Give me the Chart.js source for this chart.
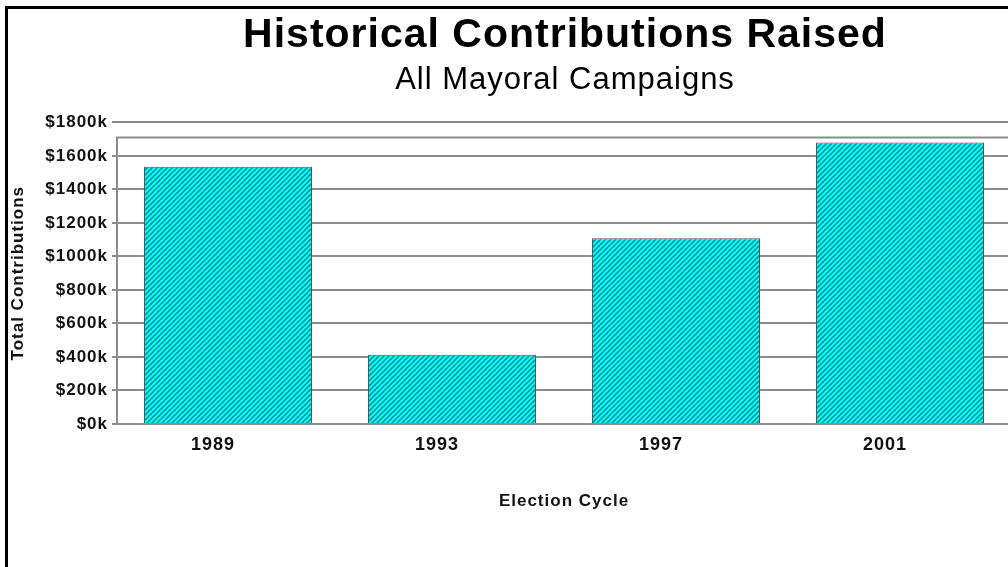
<!DOCTYPE html>
<html>
<head>
<meta charset="utf-8">
<script src="https://cdn.jsdelivr.net/npm/chart.js@4/dist/chart.umd.min.js"></script>
<style>
  html, body { margin: 0; padding: 0; background: #fff; overflow: hidden; }
  #wrap { position: relative; width: 1130px; height: 567px; }
</style>
</head>
<body>
<div id="wrap"><canvas id="c" width="1130" height="567"></canvas></div>
<script>
// ---- data ----
const categories = ['1989', '1993', '1997', '2001'];
const contributions = [1536, 414, 1108, 1680]; // thousands of dollars
const yTickMax = 1800;
const yTickStep = 200;
const wallTopValue = 1710; // top edge of the plot back wall

const chartTitle = 'Historical Contributions Raised';
const chartSubtitle = 'All Mayoral Campaigns';
const yAxisTitle = 'Total Contributions';
const xAxisTitle = 'Election Cycle';

const canvas = document.getElementById('c');
const ctx0 = canvas.getContext('2d');
const SPACING = '1px';

// ---- hatch pattern ----
function makeHatch() {
  const s = 5;
  const pc = document.createElement('canvas');
  pc.width = s; pc.height = s;
  const p = pc.getContext('2d');
  p.fillStyle = '#00ffff';
  p.fillRect(0, 0, s, s);
  p.strokeStyle = '#0b8f8f';
  p.lineWidth = 1.5;
  p.beginPath();
  p.moveTo(-1, s + 1); p.lineTo(s + 1, -1);
  p.moveTo(-1 - s, s + 1); p.lineTo(1, -1);
  p.moveTo(s - 1, s + 1); p.lineTo(2 * s + 1, -1);
  p.stroke();
  return ctx0.createPattern(pc, 'repeat');
}

const FONT = "'Liberation Sans', Arial, sans-serif";

const spacingPlugin = {
  id: 'spacing',
  beforeUpdate(chart) { chart.ctx.letterSpacing = SPACING; },
  beforeLayout(chart) { chart.ctx.letterSpacing = SPACING; },
  beforeDraw(chart) { chart.ctx.letterSpacing = SPACING; }
};

const framePlugin = {
  id: 'frame',
  beforeDraw(chart) {
    const ctx = chart.ctx;
    ctx.save();
    ctx.fillStyle = '#fff';
    ctx.fillRect(0, 0, chart.width, chart.height);
    ctx.fillStyle = '#000';
    ctx.fillRect(5, 6, 3, chart.height);
    ctx.fillRect(5, 6, chart.width, 3);
    ctx.restore();
  },
  beforeDatasetsDraw(chart) {
    const ctx = chart.ctx;
    const y = chart.scales.y;
    const area = chart.chartArea;
    const yTop = Math.round(y.getPixelForValue(wallTopValue)) + 0.5;
    const yBot = y.getPixelForValue(0);
    ctx.save();
    ctx.strokeStyle = '#8c8c8c';
    ctx.lineWidth = 2;
    ctx.beginPath();
    ctx.moveTo(area.left, yTop);
    ctx.lineTo(area.right, yTop);
    ctx.moveTo(area.left + 1, yTop);
    ctx.lineTo(area.left + 1, yBot);
    ctx.stroke();
    ctx.restore();
  }
};

new Chart(canvas, {
  type: 'bar',
  data: {
    labels: categories,
    datasets: [{
      data: contributions,
      backgroundColor: makeHatch(),
      borderColor: '#555555',
      borderWidth: 1,
      categoryPercentage: 1.0,
      barPercentage: 0.75
    }]
  },
  options: {
    responsive: false,
    animation: false,
    layout: { padding: 0 },
    plugins: {
      legend: { display: false },
      tooltip: { enabled: false },
      title: {
        display: true,
        text: chartTitle,
        color: '#000',
        font: { family: FONT, size: 41, weight: 'bold' },
        padding: { top: 11, bottom: 0 }
      },
      subtitle: {
        display: true,
        text: chartSubtitle,
        color: '#000',
        font: { family: FONT, size: 31, weight: 'normal' },
        padding: { top: 2, bottom: 23 }
      }
    },
    scales: {
      x: {
        grid: { display: false, drawTicks: false },
        border: { display: false },
        ticks: {
          color: '#111',
          font: { family: FONT, size: 18, weight: 'bold' },
          padding: 10,
          labelOffset: -15,
          maxRotation: 0
        },
        title: {
          display: true,
          text: xAxisTitle,
          color: '#111',
          font: { family: FONT, size: 17, weight: 'bold' },
          padding: { top: 0, bottom: 55 }
        },
        afterFit(scale) { scale.height = 143; }
      },
      y: {
        min: 0,
        max: yTickMax,
        ticks: {
          stepSize: yTickStep,
          color: '#111',
          font: { family: FONT, size: 17, weight: 'bold' },
          padding: 4,
          callback: (v) => '$' + v + 'k'
        },
        grid: { color: '#8c8c8c', lineWidth: 2, tickLength: 4, drawTicks: true },
        border: { display: false },
        title: {
          display: true,
          text: yAxisTitle,
          color: '#111',
          font: { family: FONT, size: 17, weight: 'bold' },
          padding: { top: 8, bottom: 0 }
        },
        afterFit(scale) { scale.width = 116; }
      },
      yRight: {
        position: 'right',
        display: true,
        grid: { display: false, drawTicks: false },
        border: { display: false },
        ticks: { display: false },
        afterFit(scale) { scale.width = 118; }
      }
    }
  },
  plugins: [spacingPlugin, framePlugin]
});
</script>
</body>
</html>
